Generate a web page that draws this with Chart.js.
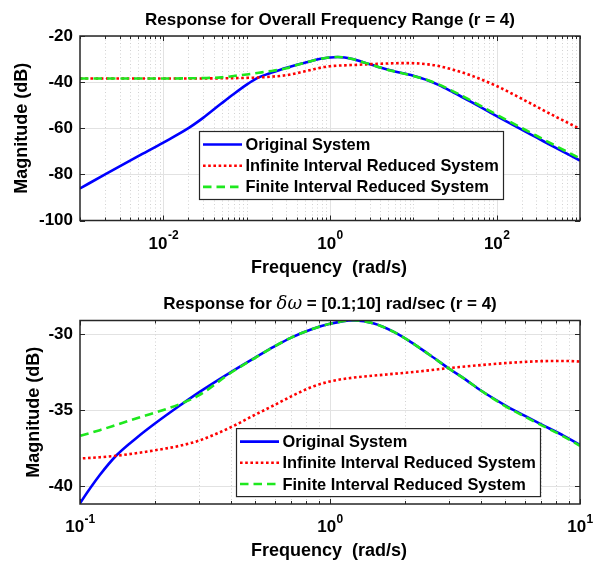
<!DOCTYPE html>
<html>
<head>
<meta charset="utf-8">
<script src="https://cdn.jsdelivr.net/npm/chart.js@4.4.1/dist/chart.umd.min.js"></script>
<style>
  html, body { margin: 0; padding: 0; background: #fff; }
  #wrap { position: relative; width: 597px; height: 561px; }
  canvas { position: absolute; left: 0; }
</style>
</head>
<body>
<div id="wrap">
  <canvas id="topChart" width="597" height="280" style="top:0"></canvas>
  <canvas id="bottomChart" width="597" height="281" style="top:280px"></canvas>
</div>
<script>
// frequency grid (rad/s) shared by both plots
const freq = [0.001, 0.002, 0.005, 0.01, 0.02, 0.03, 0.05, 0.07, 0.1, 0.12, 0.14, 0.17, 0.2, 0.25, 0.3, 0.4,
  0.5, 0.6, 0.7, 0.85, 1, 1.24, 1.5, 1.8, 2.1, 2.5, 3, 3.5, 4, 5, 6, 7, 8.5, 10, 15, 20, 30, 50, 100, 200, 300, 500, 1000];

// magnitude (dB)
const original = [-86.1, -80.0, -72.1, -66.2, -59.95, -55.5, -49.2, -45.15, -41.1, -39.25, -37.95, -36.75, -35.85, -34.7, -33.8, -32.5,
  -31.55, -30.8, -30.22, -29.66, -29.32, -29.08, -29.3, -29.85, -30.5, -31.35, -32.27, -33.0, -33.68, -34.65, -35.35, -35.92, -36.62, -37.28,
  -39.3, -41.17, -44.4, -48.7, -54.7, -60.6, -64.0, -68.3, -74.0];
const infiniteReduced = [-38.45, -38.45, -38.45, -38.45, -38.43, -38.4, -38.34, -38.27, -38.16, -38.08, -37.98, -37.8, -37.62, -37.33, -36.98, -36.12,
  -35.3, -34.65, -34.08, -33.45, -33.1, -32.85, -32.72, -32.6, -32.5, -32.37, -32.22, -32.12, -32.03, -31.9, -31.82, -31.77, -31.76, -31.8,
  -32.3, -33.0, -34.6, -37.2, -41.7, -47.2, -50.6, -54.8, -60.3];
const finiteReduced = [-38.45, -38.45, -38.44, -38.42, -38.35, -38.25, -37.95, -37.35, -36.67, -36.3, -35.95, -35.5, -35.15, -34.6, -34.0, -32.55,
  -31.57, -30.8, -30.22, -29.66, -29.32, -29.08, -29.3, -29.85, -30.5, -31.35, -32.27, -33.0, -33.68, -34.7, -35.4, -35.97, -36.67, -37.33,
  -39.2, -40.95, -44.0, -48.15, -54.1, -59.9, -63.25, -67.45, -73.1];

const seriesNames = ['Original System', 'Infinite Interval Reduced System', 'Finite Interval Reduced System'];

// tick labels
const topYTicks = [-100, -80, -60, -40, -20];
const bottomYTicks = [-40, -35, -30];
const topXExp = [-2, 0, 2];      // labelled decades 10^n
const bottomXExp = [-1, 0, 1];

const FONT = '"Liberation Sans", Arial, Helvetica, sans-serif';

function pts(ys) {
  return freq.map((f, i) => ({ x: f, y: ys[i] }));
}

function makeDatasets() {
  return [
    { label: seriesNames[0], data: pts(original), borderColor: '#0000ff', borderWidth: 2.6, borderDash: [], order: 2 },
    { label: seriesNames[1], data: pts(infiniteReduced), borderColor: '#ff0000', borderWidth: 2.6, borderDash: [2.6, 2.6], order: 1 },
    { label: seriesNames[2], data: pts(finiteReduced), borderColor: '#1ee81e', borderWidth: 2.6, borderDash: [8.5, 5], order: 0 }
  ].map(d => Object.assign(d, { pointRadius: 0, fill: false, cubicInterpolationMode: 'monotone', borderCapStyle: 'butt', clip: 0 }));
}

// MATLAB-like axes: log grid, inner ticks, box, superscript labels, titles, legend
const matlabAxes = {
  id: 'matlabAxes',
  beforeDatasetsDraw(chart, args, o) {
    const { ctx, chartArea: a, scales: { x } } = chart;
    ctx.save();
    ctx.lineWidth = 1;
    const lo = Math.floor(Math.log10(x.min)), hi = Math.ceil(Math.log10(x.max));
    for (let e = lo; e <= hi; e++) {
      for (let k = 1; k < 10; k++) {
        const v = k * Math.pow(10, e);
        if (v <= x.min * 1.0001 || v >= x.max * 0.9999) continue;
        const px = Math.round(x.getPixelForValue(v)) + 0.5;
        const major = k === 1 && o.xExp.includes(e);
        ctx.strokeStyle = major ? '#e2e2e2' : '#d2d2d2';
        ctx.setLineDash(major ? [] : [1, 2.5]);
        ctx.beginPath();
        ctx.moveTo(px, a.top);
        ctx.lineTo(px, a.bottom);
        ctx.stroke();
      }
    }
    ctx.restore();
  },
  afterDatasetsDraw(chart, args, o) {
    const { ctx, chartArea: a, scales: { x, y } } = chart;
    ctx.save();
    ctx.strokeStyle = '#262626';
    ctx.lineWidth = 1;
    ctx.setLineDash([]);

    // tick marks, pointing inwards on all four sides
    const lo = Math.floor(Math.log10(x.min)), hi = Math.ceil(Math.log10(x.max));
    ctx.beginPath();
    for (let e = lo; e <= hi; e++) {
      for (let k = 1; k < 10; k++) {
        const v = k * Math.pow(10, e);
        if (v < x.min * 0.9999 || v > x.max * 1.0001) continue;
        const px = Math.round(x.getPixelForValue(v)) + 0.5;
        const len = (k === 1 && o.xExp.includes(e)) ? 5 : 3;
        ctx.moveTo(px, a.bottom); ctx.lineTo(px, a.bottom - len);
        ctx.moveTo(px, a.top); ctx.lineTo(px, a.top + len);
      }
    }
    y.ticks.forEach(t => {
      const py = Math.round(y.getPixelForValue(t.value)) + 0.5;
      ctx.moveTo(a.left, py); ctx.lineTo(a.left + 5, py);
      ctx.moveTo(a.right, py); ctx.lineTo(a.right - 5, py);
    });
    ctx.stroke();

    // box
    ctx.lineWidth = 1.5;
    ctx.strokeRect(a.left, a.top, a.right - a.left, a.bottom - a.top);

    // x tick labels 10^n
    ctx.fillStyle = '#000';
    ctx.textBaseline = 'middle';
    ctx.textAlign = 'left';
    o.xExp.forEach(e => {
      const px = x.getPixelForValue(Math.pow(10, e));
      ctx.font = 'bold 17px ' + FONT;
      const wb = ctx.measureText('10').width;
      ctx.font = 'bold 12px ' + FONT;
      const we = ctx.measureText(String(e)).width;
      const x0 = px - (wb + we) / 2;
      const ly = a.bottom + 23.5;
      ctx.font = 'bold 17px ' + FONT;
      ctx.fillText('10', x0, ly);
      ctx.font = 'bold 12px ' + FONT;
      ctx.fillText(String(e), x0 + wb + 0.5, ly - 8);
    });

    // axis labels
    const cx = (a.left + a.right) / 2;
    ctx.textAlign = 'center';
    ctx.font = 'bold 18px ' + FONT;
    ctx.fillText('Frequency  (rad/s)', cx - 1, a.bottom + 47.5);
    ctx.save();
    ctx.translate(o.yLabelX, (a.top + a.bottom) / 2);
    ctx.rotate(-Math.PI / 2);
    ctx.fillText('Magnitude (dB)', 0, 0);
    ctx.restore();

    // title made of text runs
    ctx.textAlign = 'left';
    let total = 0;
    o.title.forEach(s => { ctx.font = s.font; total += ctx.measureText(s.text).width; });
    let tx = cx - total / 2;
    o.title.forEach(s => { ctx.font = s.font; ctx.fillText(s.text, tx, a.top - 16); tx += ctx.measureText(s.text).width; });

    // legend box
    const L = o.legend;
    const bx = a.left + L.left, by = a.top + L.top;
    ctx.fillStyle = '#fff';
    ctx.fillRect(bx, by, L.width, L.height);
    ctx.strokeStyle = '#262626';
    ctx.lineWidth = 1.2;
    ctx.strokeRect(bx + 0.5, by + 0.5, L.width, L.height);
    ctx.font = 'bold 16.4px ' + FONT;
    chart.data.datasets.forEach((d, i) => {
      const ry = by + 13.5 + i * 21.2;
      ctx.strokeStyle = d.borderColor;
      ctx.lineWidth = d.borderWidth;
      ctx.setLineDash(d.borderDash);
      ctx.beginPath();
      ctx.moveTo(bx + 4, ry);
      ctx.lineTo(bx + 43, ry);
      ctx.stroke();
      ctx.fillStyle = '#000';
      ctx.fillText(d.label, bx + 46.5, ry + 1);
    });
    ctx.restore();
  }
};

function makeChart(id, cfg) {
  return new Chart(document.getElementById(id), {
    type: 'line',
    data: { datasets: makeDatasets() },
    plugins: [matlabAxes],
    options: {
      responsive: false,
      animation: false,
      events: [],
      layout: { padding: { top: cfg.padTop, right: 17, left: 0, bottom: 0 } },
      plugins: {
        legend: { display: false },
        tooltip: { enabled: false },
        matlabAxes: cfg.axes
      },
      scales: {
        x: {
          type: 'logarithmic',
          min: cfg.xMin,
          max: cfg.xMax,
          grid: { display: false },
          border: { display: false },
          ticks: { display: false },
          afterFit: s => { s.height = cfg.xHeight; }
        },
        y: {
          min: cfg.yMin,
          max: cfg.yMax,
          afterBuildTicks: s => { s.ticks = cfg.yTicks.map(v => ({ value: v })); },
          afterFit: s => { s.width = 80; },
          grid: { color: '#e2e2e2', lineWidth: 1, drawTicks: false },
          border: { display: false },
          ticks: { color: '#000', padding: 7, font: { family: FONT, size: 17, weight: 'bold' } }
        }
      }
    }
  });
}

makeChart('topChart', {
  padTop: 36, xHeight: 59.5,
  xMin: 1e-3, xMax: 1e3, yMin: -100, yMax: -20, yTicks: topYTicks,
  axes: {
    xExp: topXExp,
    yLabelX: 22,
    title: [{ text: 'Response for Overall Frequency Range (r = 4)', font: 'bold 17px ' + FONT }],
    legend: { left: 119, top: 95, width: 304, height: 68 }
  }
});

makeChart('bottomChart', {
  padTop: 40.5, xHeight: 57,
  xMin: 0.1, xMax: 10, yMin: -41.15, yMax: -29.1, yTicks: bottomYTicks,
  axes: {
    xExp: bottomXExp,
    yLabelX: 34,
    title: [
      { text: 'Response for ', font: 'bold 17px ' + FONT },
      { text: 'δω', font: 'italic 18px "DejaVu Serif", "Liberation Serif", serif' },
      { text: ' = [0.1;10] rad/sec (r = 4)', font: 'bold 17px ' + FONT }
    ],
    legend: { left: 156, top: 107.6, width: 304, height: 68 }
  }
});
</script>
</body>
</html>
